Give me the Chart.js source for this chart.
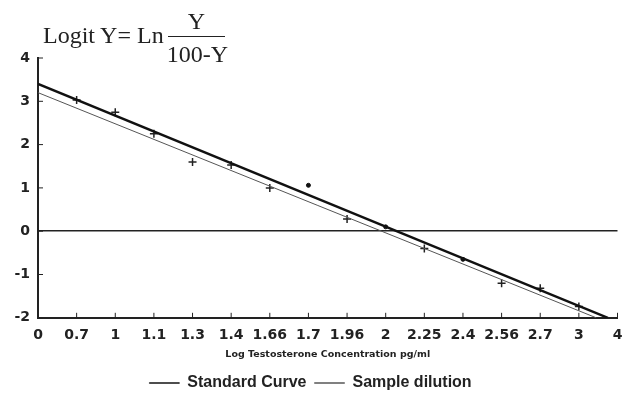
<!DOCTYPE html>
<html>
<head>
<meta charset="utf-8">
<script src="https://cdn.jsdelivr.net/npm/chart.js@4"></script>
<style>
  html, body { margin: 0; padding: 0; background: #fff; }
  #wrap { position: relative; width: 623px; height: 401px; }
  #title { position: absolute; left: 43px; top: 4px; font-family: "Liberation Serif", serif; font-size: 24px; color: #222; }
  #title .lhs { position: absolute; left: 0; top: 18px; white-space: nowrap; }
  #title .num { position: absolute; left: 125px; top: 2px; width: 57px; text-align: center; border-bottom: 1.5px solid #222; line-height: 30px; }
  #title .den { position: absolute; left: 117px; top: 37px; width: 75px; text-align: center; line-height: 26px; }
</style>
</head>
<body>
<div id="wrap">
  <canvas id="chart" width="623" height="401"></canvas>
  <div id="title"><span class="lhs">Logit Y= Ln</span><span class="num">Y</span><span class="den">100-Y</span></div>
</div>
<script>
// x categories (equally spaced on the original axis)
var xLabels = ["0", "0.7", "1", "1.1", "1.3", "1.4", "1.66", "1.7", "1.96", "2", "2.25", "2.4", "2.56", "2.7", "3", "4"];

// fitted lines: start / end on the category index scale
var standardLineX = [0, 14.75];
var standardLineY = [3.4, -2];
var sampleLineX = [0, 14.45];
var sampleLineY = [3.2, -2];

// measured points
var samplePointsX = [1, 2, 3, 4, 5, 6, 8, 10, 12, 13, 14];
var samplePointsY = [3.03, 2.75, 2.25, 1.6, 1.53, 1.0, 0.28, -0.4, -1.2, -1.32, -1.74];
var standardPointsX = [7, 9, 11];
var standardPointsY = [1.06, 0.1, -0.65];

var yTicks = [4, 3, 2, 1, 0, -1, -2];

function zip(xs, ys) {
    return xs.map(function (x, i) { return { x: x, y: ys[i] }; });
}

// small tick marks drawn inwards, like the original plot
var innerTicks = {
    id: "innerTicks",
    afterDatasetsDraw: function (chart) {
        var ctx = chart.ctx, xs = chart.scales.x, ys = chart.scales.y;
        ctx.save();
        ctx.strokeStyle = "#222";
        ctx.lineWidth = 1;
        for (var i = 1; i < xLabels.length; i++) {
            var px = xs.getPixelForValue(i);
            ctx.beginPath();
            ctx.moveTo(px, ys.bottom);
            ctx.lineTo(px, ys.bottom - 5);
            ctx.stroke();
        }
        yTicks.forEach(function (v) {
            var py = ys.getPixelForValue(v);
            ctx.beginPath();
            ctx.moveTo(xs.left, py);
            ctx.lineTo(xs.left + 5, py);
            ctx.stroke();
        });
        ctx.restore();
    }
};

var tickFont = { family: "DejaVu Sans", size: 14, weight: "bold" };

new Chart(document.getElementById("chart"), {
    type: "scatter",
    data: {
        datasets: [
            {
                label: "Standard Curve",
                data: zip(standardLineX, standardLineY),
                showLine: true,
                borderColor: "#111",
                backgroundColor: "#111",
                borderWidth: 2.5,
                pointRadius: 0
            },
            {
                label: "Sample dilution",
                data: zip(sampleLineX, sampleLineY),
                showLine: true,
                borderColor: "#555",
                backgroundColor: "#555",
                borderWidth: 1,
                pointRadius: 0
            },
            {
                label: "sample points",
                data: zip(samplePointsX, samplePointsY),
                pointStyle: "cross",
                pointRadius: 4,
                borderColor: "#222",
                borderWidth: 1.5
            },
            {
                label: "standard points",
                data: zip(standardPointsX, standardPointsY),
                pointStyle: "circle",
                pointRadius: 2,
                borderColor: "#111",
                backgroundColor: "#111"
            }
        ]
    },
    options: {
        responsive: false,
        animation: false,
        layout: { padding: { top: 58, right: 2, left: 0, bottom: 0 } },
        plugins: {
            tooltip: { enabled: false },
            legend: {
                position: "bottom",
                labels: {
                    color: "#222",
                    font: { family: "Liberation Sans", size: 16, weight: "bold" },
                    boxWidth: 30,
                    boxHeight: 1,
                    padding: 8,
                    filter: function (item) { return item.datasetIndex < 2; },
                    generateLabels: function (chart) {
                        var items = Chart.defaults.plugins.legend.labels.generateLabels(chart);
                        items.forEach(function (it) { it.lineWidth = 0.5; });
                        return items;
                    }
                }
            }
        },
        scales: {
            x: {
                type: "linear",
                min: 0,
                max: xLabels.length - 1,
                afterBuildTicks: function (scale) {
                    scale.ticks = xLabels.map(function (l, i) { return { value: i }; });
                },
                afterFit: function (scale) { scale.paddingRight = 0; },
                ticks: {
                    autoSkip: false,
                    maxRotation: 0,
                    padding: 9,
                    color: "#222",
                    font: tickFont,
                    callback: function (v) { return xLabels[v]; }
                },
                grid: { drawOnChartArea: false, drawTicks: false },
                border: { color: "#222", width: 2 },
                title: {
                    display: true,
                    text: "Log Testosterone Concentration pg/ml",
                    color: "#222",
                    font: { family: "DejaVu Sans", size: 9.5, weight: "bold" },
                    padding: { top: -4, bottom: 7 }
                }
            },
            y: {
                min: -2,
                max: 4,
                afterBuildTicks: function (scale) {
                    scale.ticks = yTicks.map(function (v) { return { value: v }; });
                },
                afterFit: function (scale) { scale.width = 38; },
                ticks: {
                    padding: 8,
                    color: "#222",
                    font: tickFont
                },
                grid: {
                    drawTicks: false,
                    lineWidth: 1.5,
                    color: function (c) { return c.tick && c.tick.value === 0 ? "#222" : "rgba(0,0,0,0)"; }
                },
                border: { color: "#222", width: 2 }
            }
        }
    },
    plugins: [innerTicks]
});
</script>
</body>
</html>
